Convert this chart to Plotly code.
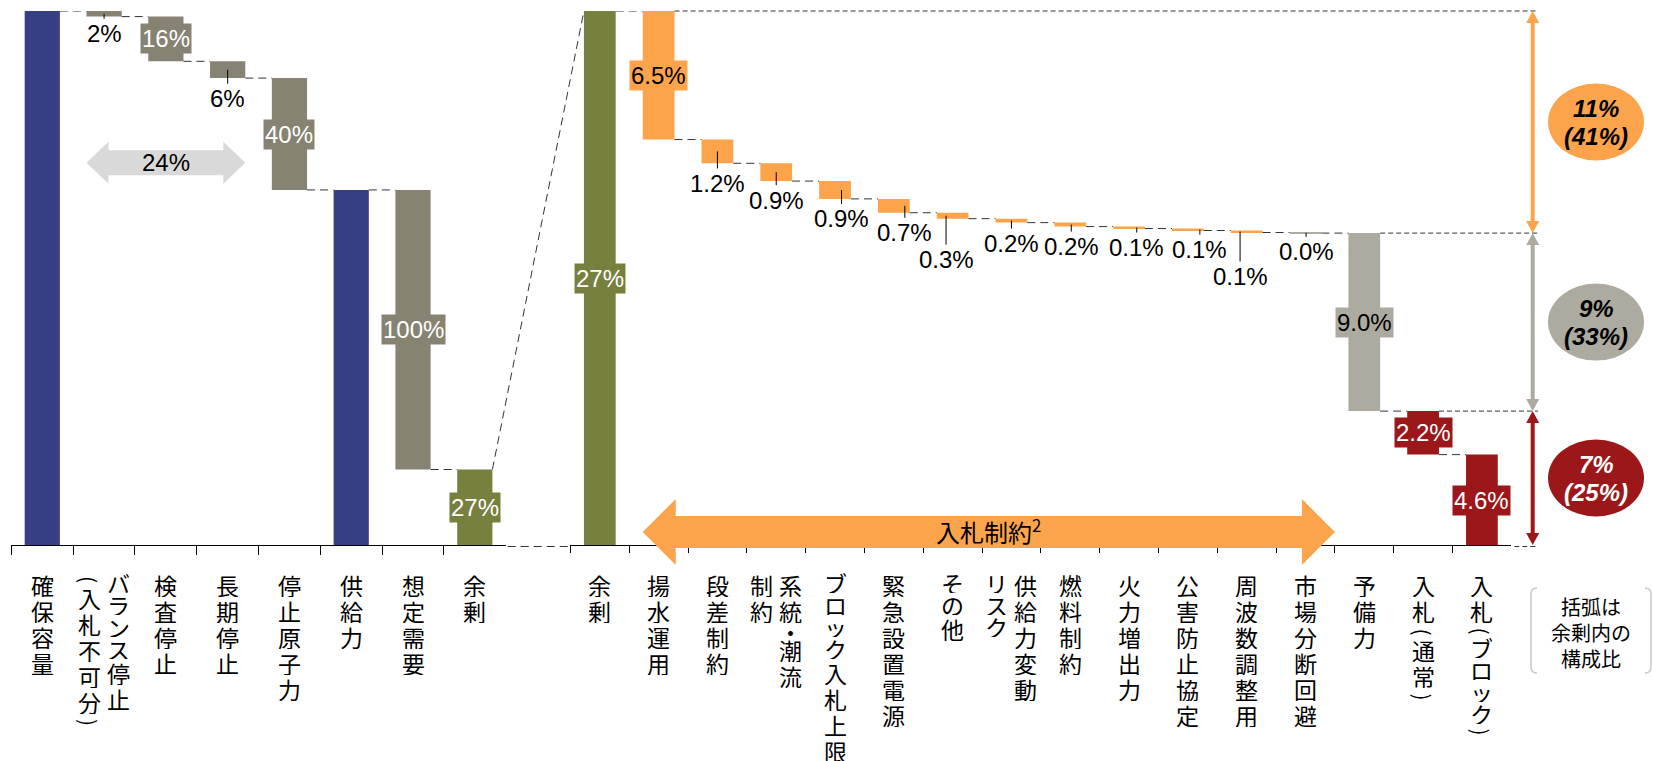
import plotly.graph_objects as go

# ---------------- data ----------------
left_categories = ["確保容量", "バランス停止（入札不可分）", "検査停止", "長期停止",
                   "停止原子力", "供給力", "想定需要", "余剰"]
left_measures = ["absolute", "relative", "relative", "relative", "relative",
                 "total", "relative", "total"]
left_values = [191, -2, -16, -6, -40, 0, -100, 0]

right_categories = ["余剰", "揚水運用", "段差制約", "系統・潮流制約", "ブロック入札上限",
                    "緊急設置電源", "その他", "供給力変動リスク", "燃料制約", "火力増出力",
                    "公害防止協定", "周波数調整用", "市場分断回避", "予備力",
                    "入札（通常）", "入札（ブロック）"]
right_measures = ["absolute"] + ["relative"] * 15
right_values = [27, -6.5, -1.2, -0.9, -0.9, -0.7, -0.3, -0.2, -0.2, -0.1, -0.1, -0.1,
                -0.03, -9.0, -2.2, -4.6]

# tick labels as typeset vertically (columns listed right-to-left)
left_tick_columns = [["確保容量"], ["バランス停止", "（入札不可分）"], ["検査停止"], ["長期停止"],
                     ["停止原子力"], ["供給力"], ["想定需要"], ["余剰"]]
right_tick_columns = [["余剰"], ["揚水運用"], ["段差制約"], ["系統・潮流", "制約"],
                      ["ブロック入札上限"], ["緊急設置電源"], ["その他"], ["供給力変動", "リスク"],
                      ["燃料制約"], ["火力増出力"], ["公害防止協定"], ["周波数調整用"],
                      ["市場分断回避"], ["予備力"], ["入札（通常）"], ["入札（ブロック）"]]

gap_range = (1, 3)                      # categories spanned by the grey "24%" arrow
bid_label = "入札制約<sup>2</sup>"
group_ranges = [(1, 12), (13, 13), (14, 15)]
group_total_labels = ["11%", "9%", "7%"]
group_share_labels = ["(41%)", "(33%)", "(25%)"]
note_text = "括弧は<br>余剰内の<br>構成比"

# ---------------- styles ----------------
W, H = 1653, 761
PT, PB = 11, 545
LX0, LX1 = 11.4, 505.7
RX0, RX1 = 570.4, 1511.3
BWL, BWR = 0.57, 0.54

NAVY = "#363F84"; GREY = "#878373"; GREEN = "#78803F"; ORANGE = "#FBA44C"
LGREY = "#ADAAA0"; RED = "#9B1719"; PALE = "#D9D9D9"; DASHC = "#333333"
NUM_FONT = "Arial, 'Liberation Sans', sans-serif"
CJK_FONT = "'Noto Sans CJK JP', sans-serif"

left_colors = [NAVY, GREY, GREY, GREY, GREY, NAVY, GREY, GREEN]
right_colors = [GREEN] + [ORANGE] * 11 + [LGREY, LGREY, RED, RED]
left_label_style = ["none", "below", "box", "below", "box", "none", "box", "box"]
left_label_fc = ["white", "black", "white", "black", "white", "white", "white", "white"]
left_label_dx = [0] * 8
left_label_ay = [0, 20, 0, 29, 0, 0, 0, 0]
right_label_style = ["box", "box"] + ["below"] * 11 + ["box", "box", "box"]
right_label_fc = ["white", "black"] + ["black"] * 11 + ["black", "white", "white"]
right_label_dx = [0, 0, 0, 0, 6.5, 11, -6.6, 0, 1, 7.7, 12, -6.6, 0.6, 0, 0, 0]
right_label_ay = [0, 0, 32, 28, 29, 27, 44, 23, 22, 20, 20, 45, 19, 0, 0, 0]
group_colors = [ORANGE, LGREY, RED]
group_text_colors = ["black", "black", "white"]


def waterfall(values, measures):
    bases, heights, ends = [], [], []
    level = 0
    for v, m in zip(values, measures):
        if m == "absolute":
            level = v
            bases.append(0); heights.append(v)
        elif m == "total":
            bases.append(0); heights.append(level)
        else:
            new = level + v
            bases.append(min(level, new)); heights.append(abs(v))
            level = new
        ends.append(level)
    return bases, heights, ends


lb, lh, le = waterfall(left_values, left_measures)
rb, rh, re_ = waterfall(right_values, right_measures)
YL = max(b + h for b, h in zip(lb, lh))
YR = max(b + h for b, h in zip(rb, rh))
nL, nR = len(left_categories), len(right_categories)
LW = (LX1 - LX0) / nL
RW = (RX1 - RX0) / nR


def X(p): return p / W
def Y(p): return (PB - p) / (PB - PT)
def pxl(i): return LX0 + (i + 0.5) * LW
def pxr(i): return RX0 + (i + 0.5) * RW
def pyl(v): return PB - v / YL * (PB - PT)
def pyr(v): return PB - v / YR * (PB - PT)


fig = go.Figure()
fig.add_trace(go.Bar(x=left_categories, y=lh, base=lb, width=BWL,
                     marker=dict(color=left_colors, line=dict(width=0)),
                     xaxis="x", yaxis="y", hoverinfo="skip"))
fig.add_trace(go.Bar(x=right_categories, y=rh, base=rb, width=BWR,
                     marker=dict(color=right_colors, line=dict(width=0)),
                     xaxis="x2", yaxis="y2", hoverinfo="skip"))

shapes = []
ann = []


def dline(x0, y0, x1, y1, xref, yref, dash, color=DASHC, width=1):
    shapes.append(dict(type="line", xref=xref, yref=yref, x0=x0, y0=y0, x1=x1, y1=y1,
                       line=dict(color=color, width=width, dash=dash), layer="above"))


def poly(points, color):
    path = "M " + " L ".join(f"{X(x):.5f},{Y(y):.5f}" for x, y in points) + " Z"
    shapes.append(dict(type="path", xref="paper", yref="paper", path=path,
                       fillcolor=color, line=dict(width=0), layer="above"))


def harrow(x0, x1, yc, sh, hh, hl, color):
    poly([(x0, yc), (x0 + hl, yc - hh), (x0 + hl, yc - sh), (x1 - hl, yc - sh),
          (x1 - hl, yc - hh), (x1, yc), (x1 - hl, yc + hh), (x1 - hl, yc + sh),
          (x0 + hl, yc + sh), (x0 + hl, yc + hh)], color)


def varrow(xc, y0, y1, sw, hw, hl, color):
    poly([(xc, y0), (xc + hw, y0 + hl), (xc + sw, y0 + hl), (xc + sw, y1 - hl),
          (xc + hw, y1 - hl), (xc, y1), (xc - hw, y1 - hl), (xc - sw, y1 - hl),
          (xc - sw, y0 + hl), (xc - hw, y0 + hl)], color)


def text(xp, yp, t, size, color="black", family=NUM_FONT, **kw):
    d = dict(xref="paper", yref="paper", x=X(xp), y=Y(yp), text=t, showarrow=False,
             xanchor="center", yanchor="middle", font=dict(family=family, size=size, color=color))
    d.update(kw)
    ann.append(d)


# connectors
for i in range(nL - 1):
    dline(i + BWL / 2, le[i], i + 1 - BWL / 2, le[i], "x", "y", "8px,5px")
for i in range(nR - 1):
    dline(i + BWR / 2, re_[i], i + 1 - BWR / 2, re_[i], "x2", "y2", "8px,5px")

# link between the two panels
dline(X(pxl(nL - 1) + BWL * LW / 2), Y(pyl(lh[-1])), X(pxr(0) - BWR * RW / 2), Y(pyr(rh[0])),
      "paper", "paper", "8px,5px")
dline(X(LX1 + 2), Y(PB + 1.5), X(RX0 - 2), Y(PB + 1.5), "paper", "paper", "8px,5px")

# right-side guides, arrows, ellipses
GX = 1538
AX = 1532.7
EX, ERX = 1596, 48
for g, (a, b) in enumerate(group_ranges):
    top = re_[a - 1]
    bot = max(re_[b], 0)
    dline(X(pxr(a) + BWR * RW / 2), Y(pyr(top)), X(GX), Y(pyr(top)), "paper", "paper", "5px,3px")
    varrow(AX, pyr(top), pyr(bot), 2, 6.5, 12, group_colors[g])
    yc = (pyr(top) + pyr(bot)) / 2
    shapes.append(dict(type="circle", xref="paper", yref="paper",
                       x0=X(EX - ERX), x1=X(EX + ERX), y0=Y(yc + 38.5), y1=Y(yc - 38.5),
                       fillcolor=group_colors[g], line=dict(width=0), layer="above"))
    text(EX, yc - 14, f"<b><i>{group_total_labels[g]}</i></b>", 24, group_text_colors[g])
    text(EX, yc + 14, f"<b><i>{group_share_labels[g]}</i></b>", 24, group_text_colors[g])
dline(X(RX1 + 3), Y(PB + 1.5), X(GX), Y(PB + 1.5), "paper", "paper", "5px,3px")

# grey 24% arrow
g0, g1 = gap_range
gx0 = pxl(g0) - BWL * LW / 2
gx1 = pxl(g1) + BWL * LW / 2
harrow(gx0, gx1, 162.7, 12.5, 21, 22, PALE)
gap_val = -sum(left_values[g0:g1 + 1])
text((gx0 + gx1) / 2, 162.7, f"{gap_val:.0f}%", 24)

# orange bid-constraint arrow
bx0 = pxr(group_ranges[0][0]) - BWR * RW / 2
bx1 = RX0 + (group_ranges[0][1] + 1) * RW
harrow(bx0, bx1, 532, 16, 33, 33, ORANGE)
text((bx0 + bx1) / 2, 531, bid_label, 24, family=CJK_FONT)


# value labels
def value_labels(xref, yref, bases, heights, measures, values, styles, fcs, colors, dxs, ays, unit, fmt):
    for i in range(len(bases)):
        st = styles[i]
        if st == "none":
            continue
        mid = bases[i] + heights[i] / 2
        v = abs(values[i]) if measures[i] == "relative" else heights[i]
        f = fmt if measures[i] == "relative" else "{:.0f}%"
        txt = f.format(v)
        if st == "box":
            ann.append(dict(xref=xref, yref=yref, x=i, y=mid, text=txt, showarrow=False,
                            xanchor="center", yanchor="middle", bgcolor=colors[i], borderpad=1,
                            font=dict(family=NUM_FONT, size=24, color=fcs[i])))
        else:
            ann.append(dict(xref=xref, yref=yref, x=i + dxs[i] / unit, y=mid, text=txt,
                            showarrow=True, arrowhead=0, arrowwidth=1, arrowcolor="black",
                            ax=0, ay=ays[i], standoff=0, startstandoff=0,
                            xanchor="center", yanchor="middle",
                            font=dict(family=NUM_FONT, size=24, color=fcs[i])))


value_labels("x", "y", lb, lh, left_measures, left_values, left_label_style, left_label_fc,
             left_colors, left_label_dx, left_label_ay, LW, "{:.0f}%")
value_labels("x2", "y2", rb, rh, right_measures, right_values, right_label_style, right_label_fc,
             right_colors, right_label_dx, right_label_ay, RW, "{:.1f}%")

# vertical category labels
HALF = set("（）・")
LABEL_TOP = 573
COLSTEP = 29


def is_kana(c):
    return "\u3040" <= c <= "\u30ff" and c != "・"


def vertical_label(xc, columns):
    ncol = len(columns)
    for k, col in enumerate(columns):
        x = xc + (ncol - 1) / 2 * COLSTEP - k * COLSTEP
        cur = LABEL_TOP
        for ch in col:
            p = 13 if ch in HALF else (22 if is_kana(ch) else 26)
            if ch in "（）":
                t = "(" if ch == "（" else ")"
                text(x, cur + p / 2, t, 21, family=CJK_FONT, textangle=90, borderpad=0)
            else:
                yc = cur + (p / 2 if ch in HALF else p * 0.43)
                text(x, yc, ch, 23, family=CJK_FONT, height=p - 1, borderpad=0)
            cur += p


for i, cols in enumerate(left_tick_columns):
    vertical_label(pxl(i), cols)
for i, cols in enumerate(right_tick_columns):
    vertical_label(pxr(i), cols)

# note in brackets
for (xa, xb) in ((1537, 1531), (1645, 1651)):
    shapes.append(dict(type="path", xref="paper", yref="paper",
                       path=f"M {X(xa):.5f},{Y(588):.5f} Q {X(xb):.5f},{Y(588):.5f} {X(xb):.5f},{Y(594):.5f} "
                            f"L {X(xb):.5f},{Y(667):.5f} Q {X(xb):.5f},{Y(673):.5f} {X(xa):.5f},{Y(673):.5f}",
                       line=dict(color="#C8C8C8", width=1.5)))
text(1591, 632, note_text, 20, family=CJK_FONT, align="center")

axis_common = dict(type="category", showline=True, linecolor="black", linewidth=1,
                   ticks="outside", tickson="boundaries", tickcolor="black", tickwidth=1,
                   showticklabels=False, showgrid=False, zeroline=False, fixedrange=True)
fig.update_layout(
    width=W, height=H,
    margin=dict(l=0, r=0, t=PT, b=H - PB),
    paper_bgcolor="white", plot_bgcolor="white",
    showlegend=False,
    xaxis=dict(domain=[X(LX0), X(LX1)], anchor="y", range=[-0.5, nL - 0.5], ticklen=9, **axis_common),
    xaxis2=dict(domain=[X(RX0), X(RX1)], anchor="y2", range=[-0.5, nR - 0.5], ticklen=7, **axis_common),
    yaxis=dict(domain=[0, 1], anchor="x", range=[0, YL], visible=False, fixedrange=True),
    yaxis2=dict(domain=[0, 1], anchor="x2", range=[0, YR], visible=False, fixedrange=True),
    shapes=shapes,
    annotations=ann,
    font=dict(family=NUM_FONT),
)
fig.write_html("out.html")
